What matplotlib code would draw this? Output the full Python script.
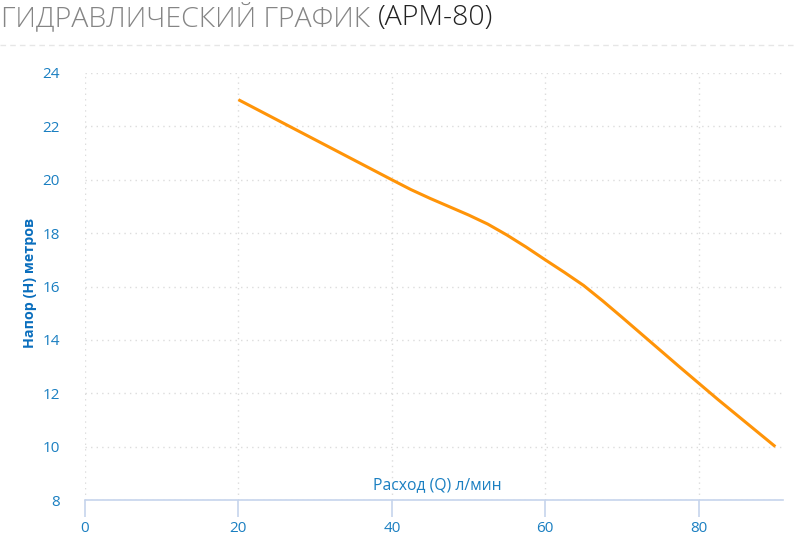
import matplotlib.pyplot as plt
from matplotlib.lines import Line2D

# flow (l/min) vs head (m)
flow = [20, 25, 30, 35, 40, 42.5, 45, 47.5, 50, 52.5, 55, 57.5, 60, 62.5, 65,
        67.5, 70, 72.5, 75, 77.5, 80, 82.5, 85, 87.5, 90]
head = [23.0, 22.25, 21.5, 20.75, 20.0, 19.63, 19.3, 18.99, 18.68, 18.34, 17.93, 17.48, 17.0,
        16.53, 16.04, 15.46, 14.85, 14.23, 13.61, 12.99, 12.38, 11.77, 11.18, 10.59, 10.0]

x_ticks = [0, 20, 40, 60, 80]
y_ticks = [8, 10, 12, 14, 16, 18, 20, 22, 24]

TICK_BLUE = "#1a7fc1"
AXIS_BLUE = "#c6d4ec"
ORANGE = "#ff9408"

W, H = 795, 538
fig = plt.figure(figsize=(W / 100, H / 100), dpi=100)
ax = fig.add_axes([85 / W, (H - 500) / H, (783 - 85) / W, (500 - 73) / H])

ax.plot(flow, head, color=ORANGE, lw=2.2, solid_capstyle="butt", solid_joinstyle="round")

ax.set_xlim(0, 91)
ax.set_ylim(8, 24)
ax.set_xticks(x_ticks)
ax.set_yticks(y_ticks)
ax.grid(True, color="#dcdcdc", ls=(0, (1, 3)), lw=1)
for s in ["top", "right", "left"]:
    ax.spines[s].set_visible(False)
ax.spines["bottom"].set_color(AXIS_BLUE)
ax.spines["bottom"].set_linewidth(1.2)
ax.tick_params(axis="x", colors=AXIS_BLUE, length=12, width=1.2, pad=3,
               labelcolor=TICK_BLUE, labelsize=11)
ax.tick_params(axis="y", length=0, pad=18, labelcolor=TICK_BLUE, labelsize=11)
for lab in ax.get_xticklabels() + ax.get_yticklabels():
    lab.set_family("Open Sans")

ax.text(0.505, 0.035, "Расход (Q) л/мин", transform=ax.transAxes, ha="center",
        va="center", color=TICK_BLUE, fontsize=11.3, family="Open Sans")
fig.text(30 / W, 1 - 283 / H, "Напор (H) метров", rotation=90, ha="center",
         va="center", color="#0a6ebd", fontsize=10.3, fontweight="bold",
         family="Open Sans")

# title in two colours
title_font = dict(fontsize=20.5, family=["Open Sans", "DejaVu Sans"], fontweight="light")
t1 = fig.text(1 / W, 1 - 18 / H, "ГИДРАВЛИЧЕСКИЙ ГРАФИК ", ha="left", va="center",
              color="#858585", **title_font)
fig.canvas.draw()
bb = t1.get_window_extent()
fig.text(bb.x1 / W, 1 - 18 / H, "(АРМ-80)", ha="left", va="center",
         color="#222222", **title_font)

fig.add_artist(Line2D([0, 1], [1 - 45 / H] * 2, transform=fig.transFigure,
                      color="#e6e6e6", ls=(0, (4, 3)), lw=1))

fig.savefig("out.png", dpi=100)
